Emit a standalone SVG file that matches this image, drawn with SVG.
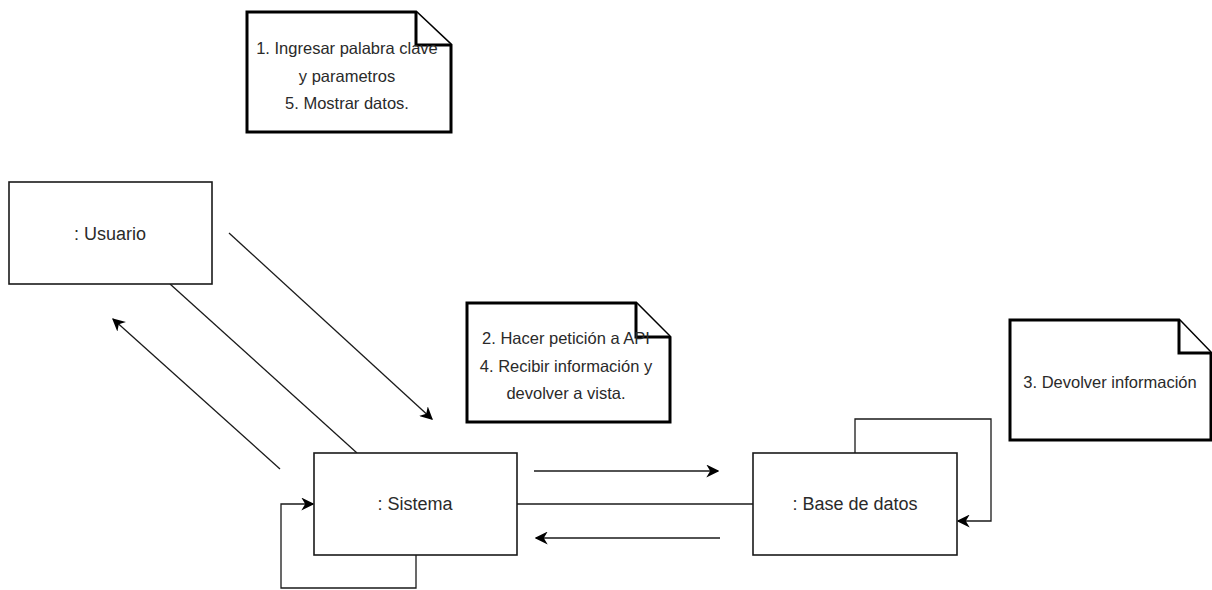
<svg xmlns="http://www.w3.org/2000/svg" width="1212" height="590" viewBox="0 0 1212 590">
<style>
.node{fill:#fff;stroke:#1a1a1a;stroke-width:1.6}
.note{fill:#fff;stroke:#000;stroke-width:3;stroke-linejoin:miter}
.lbl{font-family:"Liberation Sans",Arial,sans-serif;font-size:18px;fill:#2a2a2a;text-anchor:middle;dominant-baseline:central}
.ntxt{font-family:"Liberation Sans",Arial,sans-serif;font-size:16.5px;fill:#2a2a2a;text-anchor:middle;dominant-baseline:central}
.conn{fill:none;stroke:#1a1a1a;stroke-width:1.3}
</style>
<defs>
<marker id="arr" viewBox="0 0 10 10" refX="9" refY="5" markerWidth="13" markerHeight="13" markerUnits="userSpaceOnUse" orient="auto">
<path d="M0,0 L10,5 L0,10 L3,5 Z" fill="#000"/>
</marker>
</defs>
<g id="connectors">
<line class="conn" x1="170" y1="284" x2="357" y2="453"/>
<line class="conn" x1="229" y1="233" x2="432" y2="419" marker-end="url(#arr)"/>
<line class="conn" x1="280" y1="469" x2="113" y2="319" marker-end="url(#arr)"/>
<line class="conn" x1="517" y1="504" x2="753" y2="504"/>
<line class="conn" x1="534" y1="471" x2="718" y2="471" marker-end="url(#arr)"/>
<line class="conn" x1="720" y1="538" x2="536" y2="538" marker-end="url(#arr)"/>
<path class="conn" d="M416,555 V588 H281 V504 H313" marker-end="url(#arr)"/>
<path class="conn" d="M855,453 V419 H991 V521 H958" marker-end="url(#arr)"/>
</g>
<g id="note1">
<path class="note" d="M247,12 H416 L451,45 V132 H247 Z"/>
<path class="note" d="M416,12 V45 H451"/>
<text class="ntxt" x="347" y="48">1. Ingresar palabra clave</text>
<text class="ntxt" x="347" y="76">y parametros</text>
<text class="ntxt" x="347" y="103">5. Mostrar datos.</text>
</g>
<g id="note2">
<path class="note" d="M467,303 H636 L670,337 V422 H467 Z"/>
<path class="note" d="M636,303 V337 H670"/>
<text class="ntxt" x="566" y="338">2. Hacer petición a API</text>
<text class="ntxt" x="566" y="366">4. Recibir información y</text>
<text class="ntxt" x="566" y="393">devolver a vista.</text>
</g>
<g id="note3">
<path class="note" d="M1010,320 H1179 L1211,353 V440 H1010 Z"/>
<path class="note" d="M1179,320 V353 H1211"/>
<text class="ntxt" x="1110" y="382">3. Devolver información</text>
</g>
<g id="usuario">
<rect class="node" x="9" y="182" width="203" height="102"/>
<text class="lbl" x="110" y="234">: Usuario</text>
</g>
<g id="sistema">
<rect class="node" x="314" y="453" width="203" height="102"/>
<text class="lbl" x="415" y="504">: Sistema</text>
</g>
<g id="basededatos">
<rect class="node" x="753" y="453" width="204" height="102"/>
<text class="lbl" x="855" y="504">: Base de datos</text>
</g>
</svg>
